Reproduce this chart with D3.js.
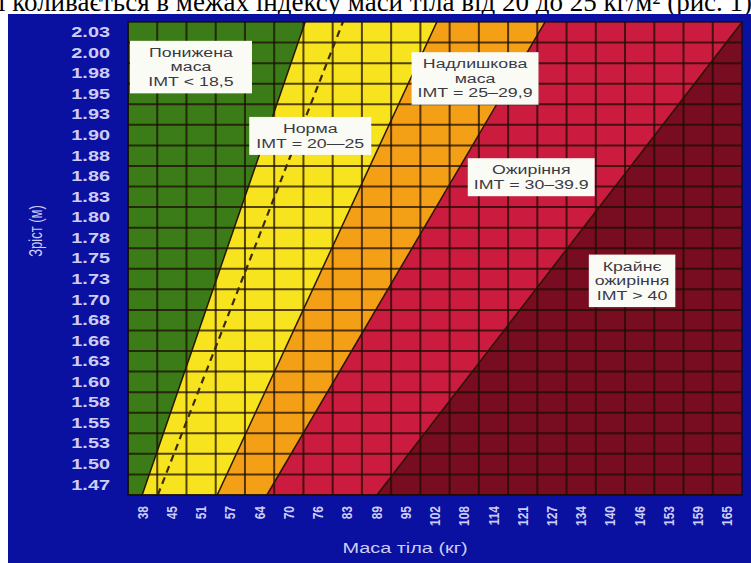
<!DOCTYPE html>
<html>
<head>
<meta charset="utf-8">
<title>Індекс маси тіла</title>
<script src="https://cdn.jsdelivr.net/npm/d3@7/dist/d3.min.js"></script>
<style>
body { margin: 0; background: #ffffff; }
svg text { font-family: "Liberation Sans", Arial, sans-serif; }
.caption { font-family: "Liberation Serif", "Times New Roman", serif; }
</style>
</head>
<body>
<svg id="chart" width="751" height="563"></svg>
<script>
// x ticks: body mass, kg (one column each)
var weights = [38, 45, 51, 57, 64, 70, 76, 83, 89, 95, 102, 108, 114, 121, 127, 134, 140, 146, 153, 159, 165];
// y ticks: height, m (one row each, top to bottom)
var heights = ["2.03", "2.00", "1.98", "1.95", "1.93", "1.90", "1.88", "1.86", "1.83", "1.80", "1.78", "1.75",
               "1.73", "1.70", "1.68", "1.66", "1.63", "1.60", "1.58", "1.55", "1.53", "1.50", "1.47"];

// zone borders: kg at the bottom edge and kg at the top edge of the grid
var borderLowKg  = [38.0, 54.3, 65.1, 89.0];
var borderHighKg = [73.4, 102.0, 125.5, 168.3];
// dashed line inside the normal zone
var normLineKg = [41.4, 81.6];

var zoneNames = ["Понижена маса", "Норма", "Надлишкова маса", "Ожиріння", "Крайнє ожиріння"];
var zoneLabels = [
  ["Понижена", "маса", "IМТ < 18,5"],
  ["Норма", "IМТ = 20—25"],
  ["Надлишкова", "маса", "IМТ = 25–29,9"],
  ["Ожиріння", "IМТ = 30–39.9"],
  ["Крайнє", "ожиріння", "IМТ > 40"]
];
// where each label box sits (kg, m)
var labelKg = [48.6, 74.5, 110.3, 122.5, 144.4];
var labelM  = [1.989, 1.904, 1.975, 1.853, 1.725];

var zoneColors = ["#3b7c18", "#f7e41f", "#f3a017", "#cb1b3f", "#780c20"];

var svg = d3.select("#chart");
var plot = {left: 128, right: 742, top: 22, bottom: 495};
var stretch = 1.42;   // the picture's lettering is widened

// page caption, cut at the top like the scan
svg.append("text")
  .attr("class", "caption")
  .attr("x", -2)
  .attr("y", 11)
  .attr("font-size", 27)
  .attr("fill", "#000")
  .text("і коливається в межах індексу маси тіла від 20 до 25 кг/м² (рис. 1)");

svg.append("rect")
  .attr("x", 8).attr("y", 14)
  .attr("width", 743).attr("height", 549)
  .attr("fill", "#0a10a0");

var xBand = d3.scaleBand().domain(weights).range([plot.left, plot.right]);
var yBand = d3.scaleBand().domain(heights).range([plot.top, plot.bottom]);

// continuous scales for the zones: column and row edges are half a step past the labels
var kgStep = 6.35, mStep = 0.0254;
var xKg = d3.scaleLinear().domain([38.1 - kgStep / 2, 165.1 + kgStep / 2]).range([plot.left, plot.right]);
var yM = d3.scaleLinear().domain([1.4732 - mStep / 2, 2.0320 + mStep / 2]).range([plot.bottom, plot.top]);
var mLow = yM.domain()[0], mHigh = yM.domain()[1];
var kgMin = xKg.domain()[0], kgMax = xKg.domain()[1];

svg.append("clipPath").attr("id", "plotClip")
  .append("rect")
  .attr("x", plot.left).attr("y", plot.top)
  .attr("width", plot.right - plot.left).attr("height", plot.bottom - plot.top);

var g = svg.append("g").attr("clip-path", "url(#plotClip)");

var line = d3.line().x(function(d) { return xKg(d[0]); }).y(function(d) { return yM(d[1]); });

zoneNames.forEach(function(name, i) {
  var left = i === 0 ? [[kgMin, mLow], [kgMin, mHigh]] : [[borderLowKg[i - 1], mLow], [borderHighKg[i - 1], mHigh]];
  var right = i === zoneNames.length - 1 ? [[kgMax + 20, mHigh], [kgMax + 20, mLow]] : [[borderHighKg[i], mHigh], [borderLowKg[i], mLow]];
  g.append("path")
    .attr("class", "zone")
    .attr("d", line(left.concat(right)) + "Z")
    .attr("fill", zoneColors[i]);
});

// grid
g.selectAll("line.v")
  .data(weights)
  .enter().append("line")
  .attr("class", "v")
  .attr("x1", function(d) { return xBand(d); })
  .attr("x2", function(d) { return xBand(d); })
  .attr("y1", plot.top).attr("y2", plot.bottom)
  .attr("stroke", "#1c0e04").attr("stroke-opacity", 0.75).attr("stroke-width", 2);

g.selectAll("line.h")
  .data(heights)
  .enter().append("line")
  .attr("class", "h")
  .attr("x1", plot.left).attr("x2", plot.right)
  .attr("y1", function(d) { return yBand(d) + yBand.bandwidth(); })
  .attr("y2", function(d) { return yBand(d) + yBand.bandwidth(); })
  .attr("stroke", "#1c0e04").attr("stroke-opacity", 0.75).attr("stroke-width", 2);

// zone borders
borderLowKg.forEach(function(kg, i) {
  g.append("path")
    .attr("d", line([[kg, mLow], [borderHighKg[i], mHigh]]))
    .attr("stroke", "#2a1505").attr("stroke-width", 1.5).attr("fill", "none");
});

g.append("path")
  .attr("d", line([[normLineKg[0], mLow], [normLineKg[1], mHigh]]))
  .attr("stroke", "#3a2a08").attr("stroke-width", 2.2)
  .attr("stroke-dasharray", "7,5").attr("fill", "none");

svg.append("rect")
  .attr("x", plot.left).attr("y", plot.top)
  .attr("width", plot.right - plot.left).attr("height", plot.bottom - plot.top)
  .attr("fill", "none").attr("stroke", "#140a04").attr("stroke-opacity", 0.6).attr("stroke-width", 2);

// axes
var tickColor = "#cdcdf6";

var yAxis = svg.append("g")
  .attr("transform", "translate(" + plot.left + ",0)")
  .call(d3.axisLeft(yBand).tickSize(0).tickPadding(0));
yAxis.select(".domain").remove();
yAxis.selectAll("text")
  .attr("x", null).attr("dy", "0.35em")
  .attr("transform", "translate(-18,0) scale(" + stretch + ",1)")
  .attr("fill", tickColor)
  .attr("font-size", 14).attr("font-weight", "bold")
  .attr("font-family", "Liberation Sans, Arial, sans-serif");

var xAxis = svg.append("g")
  .attr("transform", "translate(0," + plot.bottom + ")")
  .call(d3.axisBottom(xBand).tickSize(0).tickPadding(0));
xAxis.select(".domain").remove();
xAxis.selectAll("text")
  .attr("y", null).attr("dy", "0.35em")
  .attr("text-anchor", "end")
  .attr("transform", "translate(0,11) scale(1.2,1) rotate(-90)")
  .attr("fill", tickColor)
  .attr("font-size", 12).attr("font-weight", "bold")
  .attr("font-family", "Liberation Sans, Arial, sans-serif");

svg.append("text")
  .attr("transform", "translate(405,553) scale(" + stretch + ",1)")
  .attr("text-anchor", "middle")
  .attr("font-size", 14)
  .attr("fill", tickColor)
  .text("Маса тіла (кг)");

svg.append("text")
  .attr("transform", "translate(42,231) scale(" + stretch + ",1) rotate(-90)")
  .attr("text-anchor", "middle")
  .attr("font-size", 13)
  .attr("fill", tickColor)
  .text("Зріст (м)");

// label boxes
var lineGap = 14.5;
zoneLabels.forEach(function(lines, i) {
  var cx = xKg(labelKg[i]), cy = yM(labelM[i]);
  var box = svg.append("g").attr("transform", "translate(" + cx + "," + cy + ")");
  var rect = box.append("rect").attr("fill", "#fbfbf6");
  var txt = box.append("g").attr("transform", "scale(" + stretch + ",1)");
  lines.forEach(function(s, k) {
    txt.append("text")
      .attr("y", (k - (lines.length - 1) / 2) * lineGap)
      .attr("dy", "0.35em")
      .attr("text-anchor", "middle")
      .attr("font-size", 12.5)
      .attr("fill", "#3a3a44")
      .text(s);
  });
  var bb = txt.node().getBBox();
  var w = Math.max(bb.width * stretch + 12, 122), h = lines.length * lineGap + 9;
  if (lines.length === 3 && i === 4) w = bb.width * stretch + 12;
  rect.attr("x", -w / 2).attr("y", -h / 2).attr("width", w).attr("height", h);
});
</script>
</body>
</html>
